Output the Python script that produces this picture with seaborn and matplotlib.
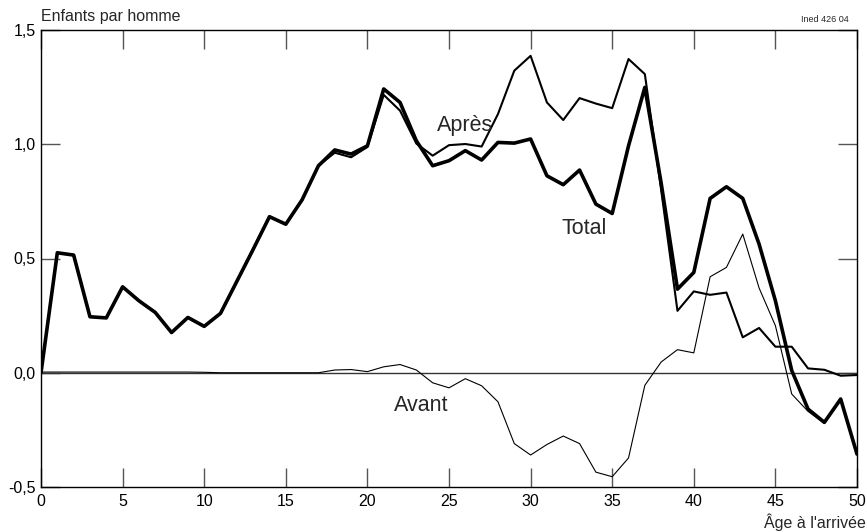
import matplotlib
matplotlib.use("Agg")
import matplotlib.pyplot as plt
import seaborn as sns
import pandas as pd
import numpy as np

sns.set_theme(style="white")
plt.rcParams['font.family'] = ['Liberation Sans', 'DejaVu Sans']

ages = list(range(0, 51))
total = [0.00, 0.525, 0.515, 0.245, 0.24, 0.376, 0.315, 0.264, 0.176, 0.242,
         0.203, 0.26, 0.40, 0.54, 0.683, 0.65, 0.757, 0.906, 0.975, 0.957,
         0.993, 1.242, 1.183, 1.015, 0.906, 0.928, 0.972, 0.931, 1.008, 1.005,
         1.023, 0.862, 0.823, 0.887, 0.738, 0.697, 0.993, 1.249, 0.83, 0.366,
         0.439, 0.763, 0.814, 0.763, 0.563, 0.315, 0.01, -0.159, -0.217, -0.115,
         -0.356]
apres = [0.00, 0.525, 0.515, 0.245, 0.24, 0.376, 0.315, 0.264, 0.176, 0.242,
         0.203, 0.26, 0.40, 0.54, 0.683, 0.65, 0.757, 0.906, 0.963, 0.943,
         0.988, 1.216, 1.147, 1.003, 0.95, 0.996, 1.001, 0.99, 1.132, 1.322,
         1.387, 1.183, 1.106, 1.202, 1.178, 1.158, 1.373, 1.307, 0.80, 0.271,
         0.356, 0.341, 0.351, 0.155, 0.196, 0.114, 0.114, 0.019, 0.013, -0.013,
         -0.01]
avant = [0.003, 0.003, 0.003, 0.003, 0.003, 0.003, 0.003, 0.003, 0.003, 0.003,
         0.002, 0.0, 0.0, 0.0, 0.0, 0.0, 0.0, 0.0, 0.012, 0.014,
         0.005, 0.026, 0.036, 0.012, -0.044, -0.066, -0.026, -0.057, -0.127, -0.31,
         -0.36, -0.314, -0.277, -0.31, -0.435, -0.455, -0.373, -0.055, 0.047, 0.101,
         0.087, 0.42, 0.461, 0.607, 0.371, 0.206, -0.093, -0.169, -0.222, -0.122,
         -0.346]

df = pd.DataFrame({"age": ages, "Total": total, "Après": apres, "Avant": avant})

fig = plt.figure(figsize=(8.67, 5.32), dpi=100)
ax = fig.add_axes([41/867, 45/532, 816/867, 457/532])

ax.axhline(0, color="#333333", lw=1.0, zorder=1)
sns.lineplot(data=df, x="age", y="Avant", ax=ax, color="black", lw=0.8, zorder=2)
sns.lineplot(data=df, x="age", y="Après", ax=ax, color="black", lw=1.5, zorder=3)
sns.lineplot(data=df, x="age", y="Total", ax=ax, color="black", lw=2.6, zorder=4)

ax.set_xlim(0, 50)
ax.set_ylim(-0.5, 1.5)
ax.set_xticks(range(0, 51, 5))
ax.set_xticklabels([str(v) for v in range(0, 51, 5)])
yt = [-0.5, 0.0, 0.5, 1.0, 1.5]
ax.set_yticks(yt)
ax.set_yticklabels(["-0,5", "0,0", "0,5", "1,0", "1,5"])
ax.tick_params(axis="both", direction="in", length=13.5, width=1.0, color="#555555",
               labelsize=11.5, colors="#555555", labelcolor="black",
               top=True, right=True, bottom=True, left=True, pad=5)
ax.tick_params(axis="y", pad=4)
ax.set_xlabel("")
ax.set_ylabel("")
for s in ax.spines.values():
    s.set_color("black")
    s.set_linewidth(1.0)

ax.text(26.0, 1.08, "Après", fontsize=15.5, ha="center", va="center")
ax.text(33.3, 0.63, "Total", fontsize=15.5, ha="center", va="center")
ax.text(23.3, -0.145, "Avant", fontsize=15.5, ha="center", va="center")

fig.text(41/867, 1 - 16/532, "Enfants par homme", fontsize=11.5, ha="left", va="center")
fig.text(849/867, 1 - 19/532, "Ined 426 04", fontsize=6.5, ha="right", va="center")
fig.text(866/867, 1 - 522/532, "Âge à l'arrivée", fontsize=11.5, ha="right", va="center")

fig.savefig("out.png", dpi=100)
